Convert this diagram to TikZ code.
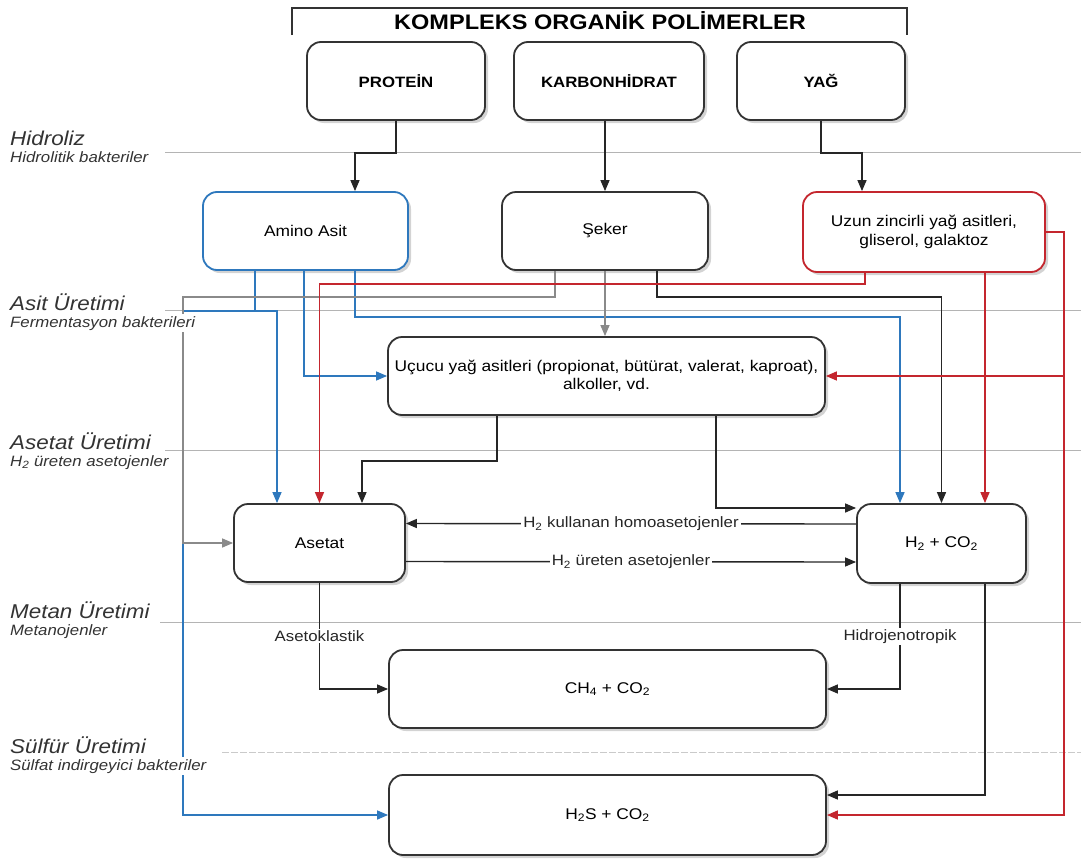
\documentclass[tikz,border=0pt]{standalone}
\usepackage{fontspec}
\setmainfont[FakeStretch=1.12]{Liberation Sans}
\usetikzlibrary{arrows.meta,shadows}
\definecolor{blu}{HTML}{2E78BD}
\definecolor{rd}{HTML}{C4262E}
\definecolor{lane}{HTML}{B4B4B4}
\definecolor{gry}{HTML}{8A8A8A}
\begin{document}
\begin{tikzpicture}[x=1pt,y=-1pt,
  box/.style={draw=black!80,line width=1.8pt,rounded corners=14pt,fill=white,align=center,
    drop shadow={shadow xshift=3pt,shadow yshift=-3pt,opacity=.35},
    font=\fontsize{15.5}{18.5}\selectfont},
  topbox/.style={box,font=\bfseries\fontsize{15}{17}\selectfont},
  con/.style={line width=1.4pt,black!85,-{Triangle[length=11pt,width=9pt]}},
  bcon/.style={con,blu},
  rcon/.style={con,rd},
  gcon/.style={con,gry},
  lanel/.style={lane,line width=1pt},
  lanet/.style={anchor=base west,fill=white,inner sep=2pt,font=\itshape\fontsize{20}{23}\selectfont,text=black!80},
  lanes/.style={anchor=base west,fill=white,inner sep=2pt,font=\itshape\fontsize{15}{17}\selectfont,text=black!80},
  lbl/.style={fill=white,inner sep=2pt,font=\fontsize{15}{17}\selectfont,text=black!85},
  clbl/.style={fill=white,inner sep=1.5pt,font=\fontsize{15}{17}\selectfont,text=black!85}]
\useasboundingbox (0,0) rectangle (1081,862);
% lanes
\draw[lanel] (165,152) -- (1081,152);
\draw[lanel] (165,310) -- (1081,310);
\draw[lanel] (165,450) -- (1081,450);
\draw[lanel] (160,622) -- (1081,622);
\draw[lanel,lane!70,dash pattern=on 7pt off 2pt] (222,752) -- (1081,752);
% title
\draw[black!80,line width=1.2pt] (292,35) -- (292,8) -- (907,8) -- (907,35);
\node[font=\bfseries\fontsize{21}{24}\selectfont] (ttl) at (600,21) {KOMPLEKS ORGANİK POLİMERLER};
% nodes
\node[topbox,minimum width=178pt,minimum height=78pt] (prot) at (396,81) {PROTEİN};
\node[topbox,minimum width=190pt,minimum height=78pt] (karb) at (609,81) {KARBONHİDRAT};
\node[topbox,minimum width=168pt,minimum height=78pt] (yag) at (821,81) {YAĞ};
\node[box,draw=blu,minimum width=205pt,minimum height=78pt] (amino) at (305.5,231) {Amino Asit};
\node[box,minimum width=206pt,minimum height=78pt] (seker) at (605,231) {Şeker};
\node[box,draw=rd,minimum width=242pt,minimum height=80pt] (uzun) at (924,232) {Uzun zincirli yağ asitleri,\\gliserol, galaktoz};
\node[box,minimum width=437pt,minimum height=78pt] (ucucu) at (606.5,376) {Uçucu yağ asitleri (propionat, bütürat, valerat, kaproat),\\alkoller, vd.};
\node[box,minimum width=171pt,minimum height=78pt] (aset) at (319.5,543) {Asetat};
\node[box,minimum width=169pt,minimum height=79pt] (hco) at (941.5,543.5) {H\textsubscript{2} + CO\textsubscript{2}};
\node[box,minimum width=437pt,minimum height=78pt] (ch) at (607.5,689) {CH\textsubscript{4} + CO\textsubscript{2}};
\node[box,minimum width=437pt,minimum height=80pt] (hs) at (607.5,815) {H\textsubscript{2}S + CO\textsubscript{2}};
\coordinate (rgt) at (1064,232);
% hidroliz
\draw[con] (prot.south) -- ++(0,32) -| ([xshift=49.5pt]amino.north);
\draw[con] (seker.north |- karb.south) -- (seker.north);
\draw[con] (yag.south) -- ++(0,32) -| ([xshift=-62pt]uzun.north);
% asit
\draw[bcon] ([xshift=-50.5pt]amino.south) -- ++(0,40) -- ++(-72,0) |- (hs.west);
\draw[bcon] ([xshift=-50.5pt]amino.south) -- ++(0,40) -| ([xshift=-42.5pt]aset.north);
\draw[bcon] ([xshift=-1.5pt]amino.south) |- (ucucu.west);
\draw[bcon] ([xshift=49.5pt]amino.south) -- ++(0,46) -| ([xshift=-41.5pt]hco.north);
\draw[gcon] ([xshift=-50pt]seker.south) -- ++(0,26) -| ([xshift=-50pt]aset.west) -- (aset.west);
\draw[gcon] (seker.south) -- (seker.south |- ucucu.north);
\draw[con] ([xshift=52pt]seker.south) -- ++(0,26) -| (hco.north);
\draw[rcon] ([xshift=-59pt]uzun.south) -- ++(0,11) -| (aset.north);
\draw[rcon] ([xshift=61pt]uzun.south) -- ([xshift=43.5pt]hco.north);
\draw[rcon] (uzun.east) -| (rgt |- ucucu.east) -- (ucucu.east);
\draw[rcon] (uzun.east) -| (rgt |- hs.east) -- (hs.east);
% asetat
\draw[con] ([xshift=-109.5pt]ucucu.south) -- ++(0,45) -| ([xshift=42.5pt]aset.north);
\draw[con] ([xshift=109.5pt]ucucu.south) |- ([yshift=35.5pt]hco.west);
\draw[con] ([yshift=19.5pt]hco.west) -- node[lbl]{H\textsubscript{2} kullanan homoasetojenler} ([yshift=19.5pt]aset.east);
\draw[con] ([yshift=-18.5pt]aset.east) -- node[lbl]{H\textsubscript{2} üreten asetojenler} ([yshift=-18.5pt]hco.west);
% metan, sulfur
\draw[con] (aset.south) |- node[pos=.25,clbl]{Asetoklastik} (ch.west);
\draw[con] ([xshift=-41.5pt]hco.south) |- node[pos=.25,clbl]{Hidrojenotropik} (ch.east);
\draw[con] ([xshift=43.5pt]hco.south) |- ([yshift=20pt]hs.east);
% lane labels
\foreach \y/\a/\b [count=\i] in {145/Hidroliz/Hidrolitik bakteriler,
    310/Asit Üretimi/Fermentasyon bakterileri,
    449/Asetat Üretimi/H\textsubscript{2} üreten asetojenler,
    618/Metan Üretimi/Metanojenler,
    753/Sülfür Üretimi/Sülfat indirgeyici bakteriler}{
  \node[lanet] (lt\i) at (8,\y) {\a};
  \node[lanes] (ls\i) at (8,\y+17) {\b};
}
\end{tikzpicture}
\end{document}
